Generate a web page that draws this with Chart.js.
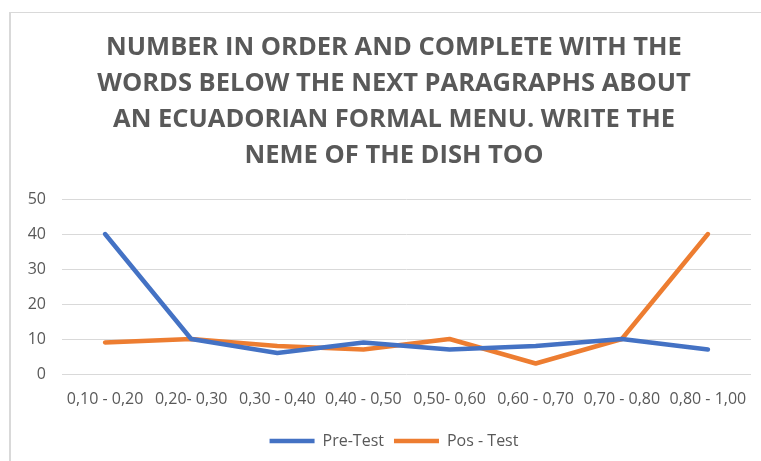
<!DOCTYPE html>
<html>
<head>
<meta charset="utf-8">
<script src="https://cdn.jsdelivr.net/npm/chart.js@4"></script>
<style>
    html, body { margin: 0; padding: 0; background: #fff; overflow: hidden; }
    body { width: 761px; height: 461px; position: relative; }
    #frame {
        position: absolute; left: 9px; top: 12px;
        width: 770px; height: 460px;
        border-left: 2px solid #d9d9d9; border-top: 1px solid #d9d9d9;
    }
    #frame canvas { position: absolute; left: -2px; top: -1px; }
</style>
</head>
<body>
<div id="frame"><canvas id="mainChart" width="770" height="460"></canvas></div>
<script>
// chart data
const categories = ['0,10 - 0,20', '0,20- 0,30', '0,30 - 0,40', '0,40 - 0,50', '0,50- 0,60', '0,60 - 0,70', '0,70 - 0,80', '0,80 - 1,00'];
const preTest = [40, 10, 6, 9, 7, 8, 10, 7];
const posTest = [9, 10, 8, 7, 10, 3, 10, 40];
const titleLines = [
    'NUMBER IN ORDER AND COMPLETE WITH THE',
    'WORDS BELOW THE NEXT PARAGRAPHS ABOUT',
    'AN ECUADORIAN FORMAL MENU. WRITE THE',
    'NEME OF THE DISH TOO'
];

const textColor = '#595959';
const gridColor = '#d9d9d9';
const fontFamily = '"Open Sans", sans-serif';

const ctx = document.getElementById('mainChart').getContext('2d');

const mainChart = new Chart(ctx, {
    type: 'line',
    data: {
        labels: categories,
        datasets: [
            {
                label: 'Pre-Test',
                data: preTest,
                borderColor: '#4472C4',
                backgroundColor: '#4472C4',
                borderWidth: 4.5,
                borderCapStyle: 'round',
                borderJoinStyle: 'round',
                pointRadius: 0,
                tension: 0
            },
            {
                label: 'Pos - Test',
                data: posTest,
                borderColor: '#ED7D31',
                backgroundColor: '#ED7D31',
                borderWidth: 4.5,
                borderCapStyle: 'round',
                borderJoinStyle: 'round',
                pointRadius: 0,
                tension: 0
            }
        ]
    },
    options: {
        responsive: false,
        animation: false,
        layout: { padding: { left: 0, right: 0, top: 0, bottom: 13 } },
        plugins: {
            title: {
                display: true,
                text: titleLines,
                color: textColor,
                font: { family: fontFamily, size: 25.5, weight: 'bold', lineHeight: 1.412 },
                padding: { top: 18, bottom: 25 }
            },
            legend: {
                position: 'bottom',
                labels: {
                    usePointStyle: true,
                    pointStyle: 'line',
                    pointStyleWidth: 45,
                    color: textColor,
                    font: { family: fontFamily, size: 16 },
                    padding: 10
                }
            },
            tooltip: { enabled: false }
        },
        scales: {
            y: {
                min: 0,
                max: 50,
                ticks: {
                    stepSize: 10,
                    color: textColor,
                    font: { family: fontFamily, size: 16 },
                    padding: 16
                },
                grid: { color: gridColor, lineWidth: 1, drawTicks: false },
                border: { display: false },
                afterFit: (scale) => { scale.width = 53; }
            },
            // empty right axis, only keeps space at the right of the plot
            yRight: {
                position: 'right',
                min: 0,
                max: 50,
                ticks: { display: false },
                grid: { display: false, drawTicks: false },
                border: { display: false },
                afterFit: (scale) => { scale.width = 28; }
            },
            x: {
                offset: true,
                ticks: {
                    color: textColor,
                    font: { family: fontFamily, size: 16 },
                    padding: 16,
                    maxRotation: 0,
                    autoSkip: false
                },
                grid: { display: false, drawTicks: false },
                border: { display: false },
                afterFit: (scale) => { scale.height = 49; }
            }
        }
    }
});
</script>
</body>
</html>
